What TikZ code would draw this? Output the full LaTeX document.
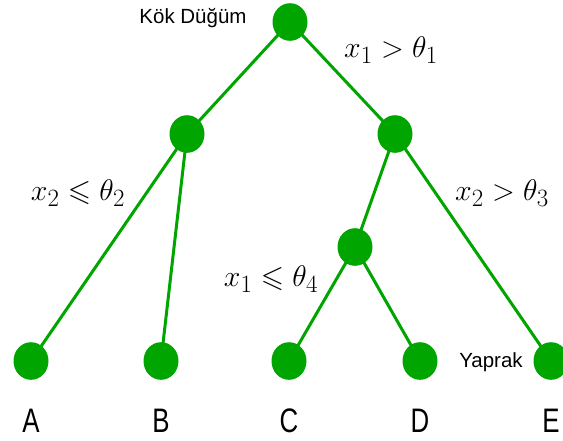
\documentclass[tikz,border=0pt]{standalone}
\usepackage{amssymb}
\usepackage{fontspec}
\newfontfamily\lsans{Liberation Sans}
\definecolor{tgreen}{RGB}{0,165,0}
\newcommand{\bigmath}[1]{\scalebox{1.2}{$#1$}}
\begin{document}
\begin{tikzpicture}[x=1pt,y=-1pt,
  tnode/.style={circle,draw=none,minimum width=35pt,inner sep=0pt},
  edge/.style={draw=tgreen,line width=3pt},
  mlabel/.style={font=\fontsize{24.88}{26}\selectfont},
  slabel/.style={font=\lsans\fontsize{20.5}{21}\selectfont},
  leaflabel/.style={font=\lsans\fontsize{34}{34}\selectfont}]
\useasboundingbox (0,0) rectangle (563,440);
\node[tnode] (root) at (290,22) {};
\node[tnode] (L) at (187,134) {};
\node[tnode] (R) at (395,134) {};
\node[tnode] (M) at (355,247) {};
\node[tnode] (A) at (31,361) {};
\node[tnode] (B) at (161,361) {};
\node[tnode] (C) at (289,361) {};
\node[tnode] (D) at (420,361) {};
\node[tnode] (E) at (551,361) {};
\draw[edge] (root.center) -- (L.center);
\draw[edge] (root.center) -- (R.center);
\draw[edge] (L.center) -- (A.center);
\draw[edge] (L.center) -- (B.center);
\draw[edge] (R.center) -- (M.center);
\draw[edge] (R.center) -- (E.center);
\draw[edge] (M.center) -- (C.center);
\draw[edge] (M.center) -- (D.center);
\foreach \n in {root,L,R,M,A,B,C,D,E} \fill[tgreen] (\n.center) ellipse (17.5pt and 18.8pt);
\node[slabel] (kok) at (193,18) {Kök Düğüm};
\node[slabel] (yap) at (491,362) {Yaprak};
\node[mlabel] (l1) at (391,50) {\bigmath{x_1>\theta_1}};
\node[mlabel] (l2) at (78,193) {\bigmath{x_2\leqslant\theta_2}};
\node[mlabel] (l3) at (502,193) {\bigmath{x_2>\theta_3}};
\node[mlabel] (l4) at (271,279) {\bigmath{x_1\leqslant\theta_4}};
\foreach \n in {A,B,C,D,E}
  \node[leaflabel,anchor=base] (t\n) at ([yshift=-71pt]\n.center) {\scalebox{0.76}[1]{\n}};
\end{tikzpicture}
\end{document}
